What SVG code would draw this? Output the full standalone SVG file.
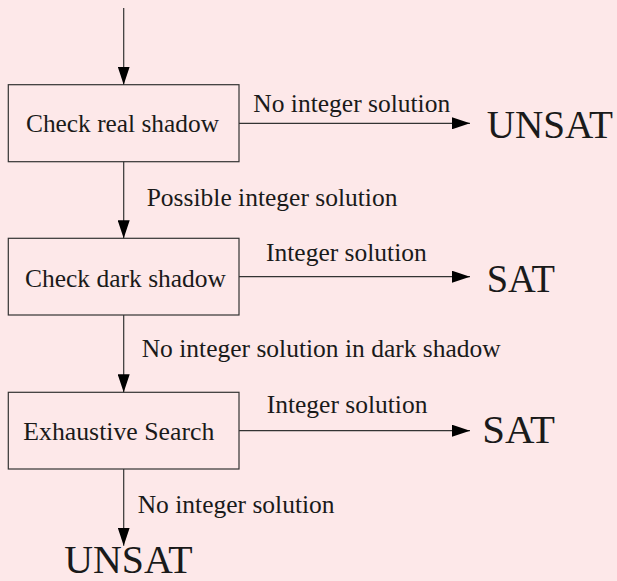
<svg xmlns="http://www.w3.org/2000/svg" width="617" height="581" viewBox="0 0 617 581">
  <style>
    .bg { fill: #fde8e9; }
    .box { fill: none; stroke: #333333; stroke-width: 1.2; }
    .wire { fill: none; stroke: #333333; stroke-width: 1.2; }
    text { font-family: 'Liberation Serif', 'DejaVu Serif', serif; fill: #1a1a1a; }
    .lbl { font-size: 25.5px; }
    .big { font-size: 40px; }
  </style>
  <defs>
    <marker id="tip" markerWidth="18" markerHeight="12" refX="18" refY="6" orient="auto" markerUnits="userSpaceOnUse">
      <path d="M0,0 L18,6 L0,12 Z" fill="#000000"/>
    </marker>
  </defs>

  <rect class="bg" x="0" y="0" width="617" height="581"/>

  <!-- process boxes -->
  <g id="real-shadow">
    <rect class="box" x="8.3" y="84.7" width="230.7" height="77"/>
    <text class="lbl" x="26" y="131.7" textLength="193" lengthAdjust="spacingAndGlyphs">Check real shadow</text>
  </g>
  <g id="dark-shadow">
    <rect class="box" x="8.3" y="238.3" width="230.7" height="76.7"/>
    <text class="lbl" x="25" y="286.5" textLength="201" lengthAdjust="spacingAndGlyphs">Check dark shadow</text>
  </g>
  <g id="exhaustive-search">
    <rect class="box" x="8.3" y="392.3" width="230.7" height="76.7"/>
    <text class="lbl" x="23.3" y="440" textLength="191" lengthAdjust="spacingAndGlyphs">Exhaustive Search</text>
  </g>

  <!-- outcomes -->
  <g id="unsat-1">
    <text class="big" x="486.7" y="138" textLength="126.3" lengthAdjust="spacingAndGlyphs">UNSAT</text>
  </g>
  <g id="sat-1">
    <text class="big" x="486.7" y="291.7" textLength="68.3" lengthAdjust="spacingAndGlyphs">SAT</text>
  </g>
  <g id="sat-2">
    <text class="big" x="482.3" y="443.3" textLength="72.7" lengthAdjust="spacingAndGlyphs">SAT</text>
  </g>
  <g id="unsat-2">
    <text class="big" x="64.3" y="573" font-size="36" textLength="128.4" lengthAdjust="spacingAndGlyphs">UNSAT</text>
  </g>

  <!-- connectors -->
  <g id="connectors">
    <line class="wire" x1="123.7" y1="8" x2="123.7" y2="84.7" marker-end="url(#tip)"/>

    <line class="wire" x1="239" y1="123.3" x2="470" y2="123.3" marker-end="url(#tip)"/>
    <text class="lbl" x="253.3" y="112">No integer solution</text>

    <line class="wire" x1="123.7" y1="161.7" x2="123.7" y2="238.3" marker-end="url(#tip)"/>
    <text class="lbl" x="146.7" y="206">Possible integer solution</text>

    <line class="wire" x1="239" y1="276.7" x2="470" y2="276.7" marker-end="url(#tip)"/>
    <text class="lbl" x="266" y="260.7">Integer solution</text>

    <line class="wire" x1="123.7" y1="315" x2="123.7" y2="392.3" marker-end="url(#tip)"/>
    <text class="lbl" x="141.7" y="356.7">No integer solution in dark shadow</text>

    <line class="wire" x1="239" y1="430.7" x2="470" y2="430.7" marker-end="url(#tip)"/>
    <text class="lbl" x="266.7" y="412.7">Integer solution</text>

    <line class="wire" x1="123.7" y1="469" x2="123.7" y2="545.7" marker-end="url(#tip)"/>
    <text class="lbl" x="137.7" y="513.3">No integer solution</text>
  </g>
</svg>
